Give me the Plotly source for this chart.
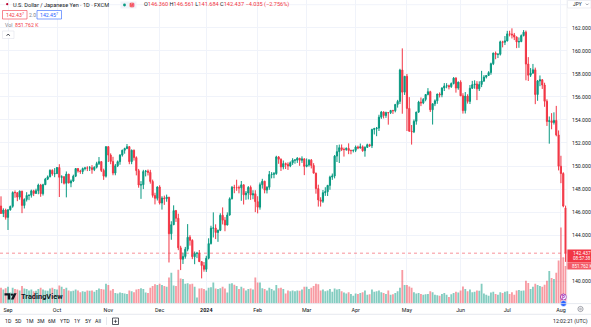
import pandas as pd
import plotly.graph_objects as go

# ---- USD/JPY daily bars (FXCM), 28 Aug 2023 - 5 Aug 2024 ----
trade_days = [d.strftime("%Y-%m-%d") for d in pd.bdate_range("2023-08-28", "2024-08-05")
              if d.strftime("%m-%d") not in ("12-25", "01-01")]

open_ = [
    146.43, 146.53, 145.88, 146.18,
    145.54, 146.20, 146.50, 147.70, 147.69, 147.30, 147.82, 146.58, 147.10, 147.45, 147.46, 147.85, 147.62, 147.86, 148.35, 147.60, 148.38, 148.86, 149.06, 149.63, 149.32,
    149.34, 149.87, 149.02, 149.07, 148.50, 149.30, 148.53, 148.70, 149.12, 149.78, 149.57, 149.52, 149.78, 149.83, 149.82, 149.85, 149.69, 149.90, 150.21, 150.38, 149.62, 149.12,
    151.68, 150.95, 150.40, 149.39, 150.02, 150.38, 150.95, 151.37, 151.52, 151.68, 150.38, 151.37, 150.73, 149.60, 148.35, 148.38, 149.52, 149.56, 149.45, 148.66, 147.45, 147.20,
    148.18, 146.79, 147.22, 147.17, 147.30, 144.12, 144.91, 146.13, 145.47, 142.90, 141.91, 142.15, 142.78, 143.82, 143.55, 142.13, 142.42, 142.43, 141.70, 141.36,
    141.04, 142.00, 143.27, 144.61, 144.62, 144.23, 144.42, 145.73, 145.30, 144.88, 145.75, 147.16, 148.15, 148.12, 148.12, 148.11, 148.37, 147.50, 147.66, 148.15, 147.49, 147.59,
    146.91, 146.43, 148.38, 148.68, 147.91, 148.16, 149.27, 149.28, 149.34, 150.79, 150.59, 149.92, 150.21, 150.14, 150.00, 150.29, 150.51, 150.51, 150.68, 150.50, 150.62,
    149.97, 150.10, 150.51, 150.05, 149.38, 148.04, 147.06, 146.94, 147.69, 147.77, 148.32, 149.04, 149.14, 150.86, 151.25, 151.59, 151.43, 151.43, 151.53, 151.34, 151.34,
    151.36, 151.65, 151.57, 151.67, 151.33, 151.62, 151.85, 151.76, 153.17, 153.25, 153.29, 154.24, 154.68, 154.38, 154.64, 154.63, 154.82, 154.80, 155.35, 155.61, 158.33, 156.41,
    157.79, 155.00, 153.02, 152.97, 153.88, 154.68, 155.55, 155.48, 155.78, 156.21, 156.45, 154.88, 155.40, 155.66, 156.25, 156.18, 156.77, 156.95, 156.97, 156.89, 157.16, 157.63, 156.77,
    157.28, 156.09, 154.81, 156.07, 155.61, 156.75, 157.06, 157.12, 156.70, 157.08, 157.38, 157.72, 157.86, 158.11, 158.88, 159.80, 159.69, 159.70, 160.78, 160.74,
    160.86, 161.47, 161.45, 161.38, 161.19, 160.77, 160.80, 161.32, 161.62, 158.85, 157.88, 158.06, 158.35, 156.20, 157.38, 157.48, 157.03, 155.62, 153.87, 153.93, 153.77, 153.96, 152.70,
    149.98, 149.35, 146.36,
]
high = [
    146.75, 147.37, 146.33, 146.30,
    146.25, 146.56, 147.80, 147.88, 147.70, 147.88, 147.85, 147.20, 147.73, 147.54, 147.95, 147.94, 148.03, 148.47, 148.45, 148.46, 148.97, 149.18, 149.71, 149.71, 149.82,
    149.91, 150.16, 149.20, 149.11, 149.53, 149.30, 148.83, 149.25, 149.83, 149.83, 149.68, 149.87, 149.93, 149.98, 150.00, 150.08, 149.97, 150.37, 150.78, 150.43, 149.77, 151.72,
    151.72, 151.10, 150.80, 150.18, 150.48, 151.03, 151.42, 151.59, 151.91, 151.73, 151.43, 151.43, 150.84, 149.75, 148.69, 149.67, 149.66, 149.70, 149.67, 148.82, 147.68, 148.24,
    148.33, 147.38, 147.43, 147.52, 147.31, 145.21, 146.59, 146.19, 145.86, 143.08, 142.49, 142.98, 144.96, 144.00, 143.64, 142.58, 142.55, 142.71, 141.75, 141.67,
    142.21, 143.73, 144.82, 145.98, 144.94, 144.49, 145.90, 146.41, 145.57, 145.98, 147.28, 148.27, 148.37, 148.81, 148.30, 148.70, 148.40, 147.83, 148.26, 148.31, 147.90, 147.90,
    147.38, 148.57, 148.89, 148.72, 148.24, 149.57, 149.47, 149.48, 150.89, 150.87, 150.66, 150.48, 150.30, 150.32, 150.40, 150.68, 150.61, 150.77, 150.70, 150.84, 150.68,
    150.66, 150.60, 150.61, 150.25, 149.42, 148.38, 147.29, 147.92, 148.16, 148.36, 149.16, 149.35, 150.96, 151.82, 151.86, 151.87, 151.60, 151.62, 151.97, 151.43, 151.43,
    151.78, 151.77, 151.95, 151.79, 151.71, 151.94, 151.93, 153.24, 153.32, 153.39, 154.45, 154.78, 154.75, 154.72, 154.65, 154.87, 154.88, 155.36, 155.74, 158.44, 160.21, 157.80,
    157.99, 155.98, 153.56, 154.04, 154.71, 155.66, 155.95, 155.90, 156.24, 156.76, 156.53, 155.44, 155.78, 156.27, 156.39, 156.84, 157.20, 157.19, 157.06, 157.25, 157.72, 157.71, 157.33,
    157.44, 156.32, 156.42, 156.23, 157.03, 157.39, 157.44, 157.37, 157.35, 158.26, 157.89, 157.89, 158.23, 158.97, 159.84, 159.94, 159.79, 160.88, 160.87, 161.28,
    161.73, 161.74, 161.95, 161.55, 161.25, 161.16, 161.42, 161.80, 161.76, 159.45, 158.50, 158.86, 158.54, 157.47, 157.86, 157.55, 157.23, 155.79, 154.30, 154.59, 154.66, 155.22, 153.09,
    150.89, 149.46, 146.561,
]
low = [
    146.05, 145.85, 145.57, 145.35,
    144.45, 146.13, 146.38, 147.25, 146.95, 147.08, 145.91, 146.32, 146.92, 147.04, 147.26, 147.39, 147.59, 147.55, 147.33, 147.44, 148.35, 148.78, 149.03, 149.16, 149.03,
    149.32, 147.31, 148.51, 148.40, 147.28, 148.50, 148.16, 148.62, 149.04, 149.43, 149.32, 149.30, 149.62, 149.56, 149.57, 149.33, 149.56, 149.79, 150.09, 149.48, 148.80, 149.00,
    150.35, 150.16, 149.20, 149.20, 149.91, 150.11, 150.82, 151.07, 151.46, 150.16, 150.16, 150.47, 149.19, 148.12, 147.15, 148.00, 149.10, 149.18, 148.47, 147.26, 146.67, 147.01,
    146.66, 146.22, 146.63, 146.90, 141.63, 143.60, 144.87, 145.15, 142.70, 140.97, 141.50, 141.96, 142.60, 143.09, 141.92, 141.48, 142.02, 141.68, 140.25, 140.83,
    140.81, 141.90, 143.19, 143.80, 143.66, 143.42, 144.35, 144.93, 144.34, 144.85, 145.69, 147.10, 147.64, 147.85, 147.63, 146.98, 146.66, 147.07, 147.10, 147.06, 147.12, 146.00,
    145.89, 146.21, 148.04, 147.63, 147.62, 147.94, 148.93, 148.94, 149.24, 150.19, 149.57, 149.71, 149.74, 149.66, 149.90, 150.10, 150.20, 150.27, 150.02, 150.27, 149.21,
    149.89, 149.95, 149.79, 149.38, 147.60, 146.48, 146.48, 146.80, 147.41, 147.40, 147.94, 148.80, 148.93, 150.35, 150.26, 151.30, 150.82, 151.32, 151.03, 151.02, 151.18,
    151.21, 151.46, 151.51, 151.24, 150.81, 151.58, 151.66, 151.56, 152.74, 152.59, 153.04, 154.09, 154.13, 154.18, 153.59, 154.51, 154.52, 154.66, 155.07, 155.38, 154.54, 156.17,
    153.04, 152.99, 151.86, 152.86, 153.59, 154.61, 155.20, 155.37, 155.62, 156.13, 154.69, 153.60, 155.20, 155.40, 155.95, 155.97, 156.51, 156.75, 156.65, 156.78, 157.08, 156.37, 156.62,
    156.08, 154.55, 154.56, 155.42, 155.38, 156.68, 156.71, 155.72, 156.51, 156.85, 157.29, 157.60, 157.83, 157.92, 158.76, 159.27, 159.37, 159.59, 160.30, 160.50,
    160.81, 161.25, 161.07, 160.93, 160.23, 160.26, 160.75, 161.25, 157.44, 157.38, 157.73, 158.02, 155.37, 155.66, 156.93, 156.69, 155.14, 153.48, 151.94, 153.19, 153.60, 152.58, 149.62,
    148.51, 146.42, 141.684,
]
close = [
    146.53, 145.88, 146.18, 145.54,
    146.20, 146.50, 147.70, 147.69, 147.30, 147.82, 146.58, 147.10, 147.45, 147.46, 147.85, 147.62, 147.86, 148.35, 147.60, 148.38, 148.86, 149.06, 149.63, 149.32, 149.34,
    149.87, 149.02, 149.07, 148.50, 149.30, 148.53, 148.70, 149.12, 149.78, 149.57, 149.52, 149.78, 149.83, 149.82, 149.85, 149.69, 149.90, 150.21, 150.38, 149.62, 149.12, 151.68,
    150.95, 150.40, 149.39, 150.02, 150.38, 150.95, 151.37, 151.52, 151.68, 150.38, 151.37, 150.73, 149.60, 148.35, 148.38, 149.52, 149.56, 149.45, 148.66, 147.45, 147.20, 148.18,
    146.79, 147.22, 147.17, 147.30, 144.12, 144.91, 146.13, 145.47, 142.90, 141.91, 142.15, 142.78, 143.82, 143.55, 142.13, 142.42, 142.43, 141.70, 141.36, 141.04,
    142.00, 143.27, 144.61, 144.62, 144.23, 144.42, 145.73, 145.30, 144.88, 145.75, 147.16, 148.15, 148.12, 148.12, 148.11, 148.37, 147.50, 147.66, 148.15, 147.49, 147.59, 146.91,
    146.43, 148.38, 148.68, 147.91, 148.16, 149.27, 149.28, 149.34, 150.79, 150.59, 149.92, 150.21, 150.14, 150.00, 150.29, 150.51, 150.51, 150.68, 150.50, 150.62, 149.97,
    150.10, 150.51, 150.05, 149.38, 148.04, 147.06, 146.94, 147.69, 147.77, 148.32, 149.04, 149.14, 150.86, 151.25, 151.59, 151.43, 151.43, 151.53, 151.34, 151.34, 151.36,
    151.65, 151.57, 151.67, 151.33, 151.62, 151.85, 151.76, 153.17, 153.25, 153.29, 154.24, 154.68, 154.38, 154.64, 154.63, 154.82, 154.80, 155.35, 155.61, 158.33, 156.41, 157.79,
    155.00, 153.02, 152.97, 153.88, 154.68, 155.55, 155.48, 155.78, 156.21, 156.45, 154.88, 155.40, 155.66, 156.25, 156.18, 156.77, 156.95, 156.97, 156.89, 157.16, 157.63, 156.77, 157.28,
    156.09, 154.81, 156.07, 155.61, 156.75, 157.06, 157.12, 156.70, 157.08, 157.38, 157.72, 157.86, 158.11, 158.88, 159.80, 159.69, 159.70, 160.78, 160.74, 160.86,
    161.47, 161.45, 161.38, 161.19, 160.77, 160.80, 161.32, 161.62, 158.85, 157.88, 158.06, 158.35, 156.20, 157.38, 157.48, 157.03, 155.62, 153.87, 153.93, 153.77, 153.96, 152.70, 149.98,
    149.35, 146.53, 142.437,
]
# tick volume, thousands
volume_k = [
    330, 360, 320, 350,
    380, 250, 360, 330, 320, 300, 400, 340, 330, 300, 320, 280, 290, 330, 360, 320, 300, 290, 340, 360, 330,
    320, 410, 380, 330, 360, 300, 280, 290, 320, 300, 260, 280, 270, 300, 290, 300, 270, 310, 340, 330, 320, 450,
    420, 300, 330, 240, 230, 250, 240, 230, 220, 300, 280, 260, 320, 330, 350, 330, 250, 240, 360, 400, 440, 420,
    450, 420, 400, 380, 590, 700, 410, 400, 770, 570, 560, 450, 460, 440, 450, 380, 140, 340, 350, 330,
    300, 360, 370, 480, 340, 330, 350, 380, 340, 250, 450, 460, 430, 400, 330, 380, 350, 300, 330, 340, 320, 590,
    480, 480, 350, 330, 300, 360, 330, 300, 420, 350, 360, 330, 230, 300, 280, 300, 280, 300, 290, 320, 380,
    380, 330, 360, 400, 450, 440, 300, 320, 280, 300, 330, 270, 340, 320, 330, 280, 250, 230, 260, 220, 180,
    230, 220, 240, 260, 300, 200, 210, 320, 270, 280, 300, 260, 240, 220, 300, 200, 210, 240, 280, 360, 760, 420,
    420, 390, 360, 260, 230, 240, 220, 200, 210, 220, 280, 260, 200, 190, 180, 220, 240, 200, 150, 210, 240, 270, 250,
    300, 390, 330, 280, 320, 260, 270, 300, 290, 450, 230, 200, 180, 250, 270, 220, 200, 260, 240, 270,
    280, 220, 260, 200, 300, 310, 290, 300, 520, 470, 330, 380, 450, 420, 400, 380, 430, 520, 740, 580, 560, 700, 980,
    1725, 1050, 851.762,
]

month_ticks = ["2023-09-01", "2023-10-02", "2023-11-01", "2023-12-01", "2024-01-02", "2024-02-01",
               "2024-03-01", "2024-04-01", "2024-05-01", "2024-06-03", "2024-07-01", "2024-08-01"]
month_labels = ["Sep", "Oct", "Nov", "Dec", "<b>2024</b>", "Feb", "Mar", "Apr", "May", "Jun", "Jul", "Aug"]
price_ticks = [140, 142, 144, 146, 148, 150, 152, 154, 156, 158, 160, 162]
price_labels = [f"{p:.3f}" for p in price_ticks]
Y_MIN, Y_MAX = 138.061, 164.409

UP, DOWN = "#089981", "#F23645"
UP_VOL, DOWN_VOL = "rgba(8,153,129,0.5)", "rgba(242,54,69,0.5)"
TEXT, MUTED = "#131722", "#787B86"
GRID = "#F0F3FA"
FONT = "Roboto"

W, H = 591, 327


def fx(px):
    return px / W


def fy(py):
    return 1 - py / H


vol_colors = [UP_VOL if c >= o else DOWN_VOL for o, c in zip(open_, close)]

fig = go.Figure()
fig.add_trace(go.Bar(
    x=trade_days, y=volume_k, yaxis="y2", marker=dict(color=vol_colors, line=dict(width=0)),
    hoverinfo="skip",
))
fig.add_trace(go.Candlestick(
    x=trade_days, open=open_, high=high, low=low, close=close,
    increasing=dict(line=dict(color=UP, width=1), fillcolor=UP),
    decreasing=dict(line=dict(color=DOWN, width=1), fillcolor=DOWN),
    whiskerwidth=0,
))

last_close = close[-1]
fig.add_hline(y=last_close, line=dict(color="rgba(242,54,69,0.55)", width=1, dash="dot"))
# unlabeled grid row above the top price label
fig.add_hline(y=164, line=dict(color=GRID, width=1), layer="below")

shapes = []
annotations = []


def text(x, y, s, size=5.6, color=TEXT, anchor="left", bold=False):
    annotations.append(dict(
        x=fx(x), y=fy(y), xref="paper", yref="paper", text=s,
        showarrow=False, xanchor=anchor, yanchor="middle",
        font=dict(family=FONT, size=size, color=color, weight="bold" if bold else "normal"),
    ))


def rect(x0, y0, x1, y1, fill="rgba(0,0,0,0)", line=None, lw=0.8):
    shapes.append(dict(type="rect", xref="paper", yref="paper",
                       x0=fx(x0), x1=fx(x1), y0=fy(y1), y1=fy(y0),
                       fillcolor=fill, line=dict(color=line or "rgba(0,0,0,0)", width=lw if line else 0),
                       layer="above"))


def circle(cx, cy, r, fill, line=None, lw=0.6):
    shapes.append(dict(type="circle", xref="paper", yref="paper",
                       x0=fx(cx - r), x1=fx(cx + r), y0=fy(cy + r), y1=fy(cy - r),
                       fillcolor=fill, line=dict(color=line or "rgba(0,0,0,0)", width=lw if line else 0),
                       layer="above"))


def polyline(points, color, lw=0.8, fill=None):
    d = "M " + " L ".join(f"{fx(x)} {fy(y)}" for x, y in points)
    if fill:
        d += " Z"
    shapes.append(dict(type="path", xref="paper", yref="paper", layer="above", path=d,
                       fillcolor=fill or "rgba(0,0,0,0)", line=dict(color=color, width=lw)))


def hline(x0, x1, y, color="#E0E3EB", lw=0.8):
    shapes.append(dict(type="line", xref="paper", yref="paper", x0=fx(x0), x1=fx(x1), y0=fy(y), y1=fy(y),
                       line=dict(color=color, width=lw), layer="above"))


# header: symbol line
circle(4.6, 6.0, 2.6, "#3C5AA8")
circle(7.2, 4.2, 2.6, "#FFFFFF", line="#E0E3EB", lw=0.5)
circle(7.2, 4.2, 1.1, "#BC002D")
text(11, 5, "U.S. Dollar / Japanese Yen · 1D · FXCM")
rect(120.5, 1.5, 136.5, 8.5, fill="#F0F3FA")
circle(124.5, 5, 1.4, UP)
circle(132, 5, 2.8, "#F7A6AD")
text(132, 5.2, "M", size=4.5, color="#F23645", anchor="center", bold=True)
ohlc = (f"O<span style='color:{DOWN}'>146.360</span> H<span style='color:{DOWN}'>146.561</span> "
        f"L<span style='color:{DOWN}'>141.684</span> C<span style='color:{DOWN}'>142.437</span> "
        f"<span style='color:{DOWN}'>−4.035 (−2.756%)</span>")
text(142, 5, ohlc, color=TEXT)

# bid / ask
rect(2.5, 10.5, 27, 19, fill="white", line=DOWN, lw=0.6)
text(14.7, 14.8, "142.43<sup>7</sup>", size=5.2, color=DOWN, anchor="center")
text(32, 14.8, "2.0", size=5.0, color=MUTED, anchor="center")
rect(37, 10.5, 61.5, 19, fill="white", line="#2962FF", lw=0.6)
text(49.2, 14.8, "142.45<sup>7</sup>", size=5.2, color="#2962FF", anchor="center")

# volume legend
text(3, 25, "Vol", size=5.2, color=MUTED)
text(12.5, 25, "851.762 K", size=5.2, color=DOWN)

# collapse button
rect(2.5, 31, 14, 38.5, fill="white", line="#E0E3EB", lw=0.6)
polyline([(6.6, 35.8), (8.2, 34.0), (9.8, 35.8)], TEXT, lw=0.8)

# currency selector
rect(567.5, 0.5, 591, 8, fill="white", line="#E0E3EB", lw=0.6)
text(570.5, 4.3, "JPY", size=4.8, color=TEXT)
polyline([(585.8, 3.6), (587.2, 5.0), (588.6, 3.6)], MUTED, lw=0.7)

# last price / volume labels on the price scale
rect(566.5, 249.5, 591, 262.5, fill=DOWN)
text(571, 253.2, "142.437", size=4.9, color="white")
text(571, 258.8, "08:57:38", size=4.5, color="white")
rect(566.5, 262.5, 591, 269.5, fill="#F45B67")
text(570.3, 266, "851.762 K", size=4.5, color="white")

# event markers on the time scale
circle(563.5, 297, 3.0, "#FFFFFF", line="#9C27B0", lw=0.9)
text(563.5, 297.2, "P", size=4.5, color="#9C27B0", anchor="center", bold=True)
circle(563.5, 303.5, 3.0, "#2962FF", line="white", lw=0.6)

# TradingView logo
polyline([(4.5, 293.3), (10.2, 293.3), (10.2, 299.6), (7.8, 299.6), (7.8, 295.6), (4.5, 295.6)],
         TEXT, lw=0, fill=TEXT)
circle(11.9, 294.6, 1.2, TEXT)
polyline([(13.8, 293.3), (16.6, 293.3), (13.6, 299.6), (10.9, 299.6)], TEXT, lw=0, fill=TEXT)
text(18.5, 296.3, "TradingView", size=7.4, color=TEXT, bold=True)

# separators
hline(0, 591, 303.6, color="#E0E3EB")
hline(0, 591, 314.3, color="#E0E3EB")
shapes.append(dict(type="line", xref="paper", yref="paper", x0=fx(567), x1=fx(567), y0=fy(303.6), y1=1,
                   line=dict(color="#EEF0F4", width=0.8), layer="above"))

# settings gear
circle(580.5, 309, 2.6, "white", line=MUTED, lw=0.7)
circle(580.5, 309, 0.9, "white", line=MUTED, lw=0.6)

# range toolbar
for label, xc in [("1D", 8.3), ("5D", 18.7), ("1M", 29.5), ("3M", 40.5), ("6M", 51.5), ("YTD", 64.5),
                  ("1Y", 77.5), ("5Y", 88.5), ("All", 98)]:
    text(xc, 321, label, size=5.2, color=TEXT, anchor="center")
shapes.append(dict(type="line", xref="paper", yref="paper", x0=fx(106.5), x1=fx(106.5), y0=fy(325), y1=fy(317),
                   line=dict(color="#E0E3EB", width=0.8), layer="above"))
rect(112.5, 318, 118.5, 324.5, fill="white", line=TEXT, lw=0.7)
polyline([(115.5, 319.6), (115.5, 323.0)], TEXT, lw=0.6)
polyline([(113.8, 321.3), (117.2, 321.3)], TEXT, lw=0.6)
text(590, 321, "12:02:21 (UTC)", size=5.2, color=TEXT, anchor="right")

fig.update_layout(
    width=W, height=H, margin=dict(l=0, r=0, t=0, b=0),
    paper_bgcolor="white", plot_bgcolor="white",
    showlegend=False, bargap=0.22,
    font=dict(family=FONT, size=5.4, color=TEXT),
    xaxis=dict(
        type="category", domain=[0, fx(567)], range=[0.57, 243.6],
        tickmode="array", tickvals=month_ticks, ticktext=month_labels,
        showgrid=True, gridcolor=GRID, gridwidth=1, zeroline=False,
        ticks="", showline=False, rangeslider=dict(visible=False),
        tickfont=dict(family=FONT, size=5.4, color=TEXT),
        ticklabelstandoff=2,
    ),
    yaxis=dict(
        domain=[fy(303.6), 1], range=[Y_MIN, Y_MAX], side="right",
        tickmode="array", tickvals=price_ticks, ticktext=price_labels,
        showgrid=True, gridcolor=GRID, gridwidth=1, zeroline=False,
        ticks="", showline=False, tickfont=dict(family=FONT, size=5.2, color=TEXT),
        ticklabelstandoff=4,
    ),
    yaxis2=dict(
        domain=[fy(303.6), 1], range=[0, 6890], overlaying="y", side="left",
        visible=False, showgrid=False, zeroline=False,
    ),
    shapes=shapes, annotations=annotations,
)

fig.write_html("out.html")
